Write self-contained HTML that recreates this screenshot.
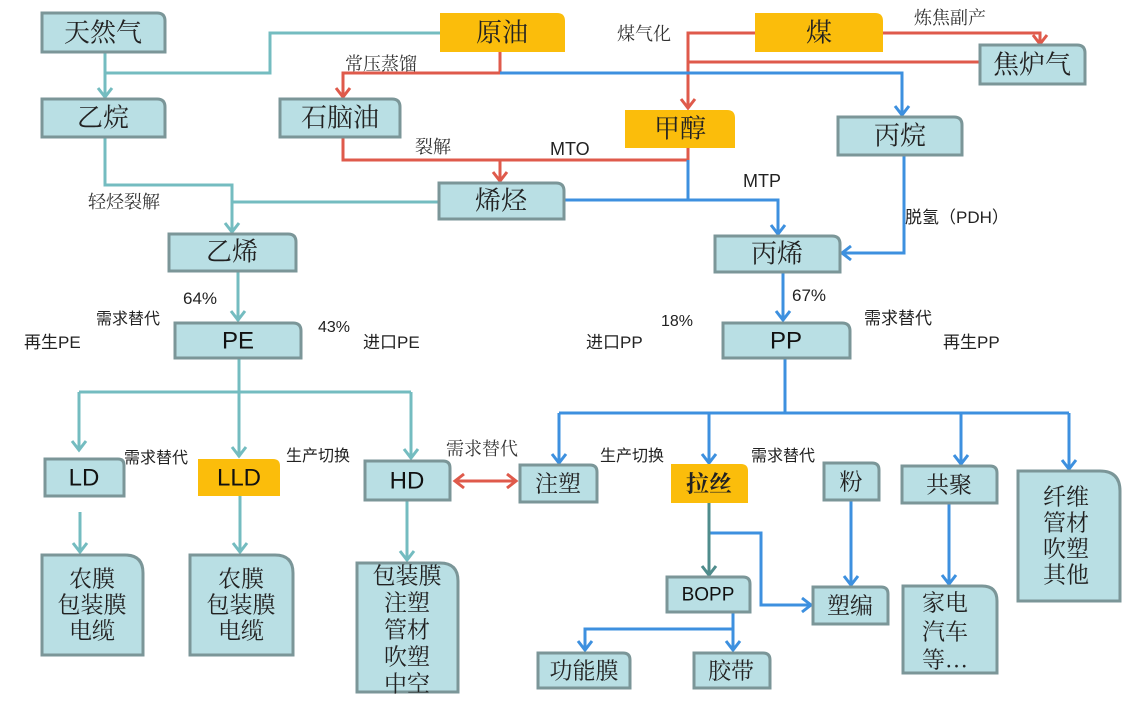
<!DOCTYPE html>
<html><head><meta charset="utf-8"><style>
html,body{margin:0;padding:0;background:#fff;}
svg{display:block;}
.n{font-family:"Liberation Serif","Noto Serif CJK SC",serif;font-size:26px;fill:#222;text-anchor:middle;dominant-baseline:central;}
.e{font-family:"Liberation Sans","Noto Sans CJK SC",sans-serif;font-size:24px;fill:#111;text-anchor:middle;dominant-baseline:central;}
.l{font-family:"Liberation Sans","Noto Sans CJK SC",sans-serif;font-size:17px;fill:#222;}
.ls{font-family:"Liberation Serif","Noto Serif CJK SC",serif;font-size:18px;fill:#333;}
.t{fill:none;stroke:#74bcc0;stroke-width:3;}
.r{fill:none;stroke:#df5a4b;stroke-width:3;}
.b{fill:none;stroke:#3d90df;stroke-width:3;}
.d{fill:none;stroke:#4f8c8c;stroke-width:3;}
</style></head><body>
<svg width="1144" height="701" viewBox="0 0 1144 701" xmlns="http://www.w3.org/2000/svg">
<rect width="1144" height="701" fill="#fff"/>
<!-- teal -->
<path class="t" d="M440,33 H270 V73 H105"/>
<path class="t" d="M105,52 V97"/>
<path class="t" d="M98,88 L105,97 L112,88"/>
<path class="t" d="M105,137 V185 H232 V232"/>
<path class="t" d="M438,202 H232"/>
<path class="t" d="M225,223 L232,232 L239,223"/>
<path class="t" d="M238,271 V321"/>
<path class="t" d="M231,311 L238,320 L245,311"/>
<path class="t" d="M239,358 V457"/>
<path class="t" d="M79,392 H411"/>
<path class="t" d="M79,392 V450 M411,392 V458"/>
<path class="t" d="M72,441 L79,450 L86,441 M232,447 L239,456 L246,447 M404,449 L411,458 L418,449"/>
<path class="t" d="M80,512 V552 M73,543 L80,552 L87,543"/>
<path class="t" d="M240,496 V552 M233,543 L240,552 L247,543"/>
<path class="t" d="M407,500 V560 M400,551 L407,560 L414,551"/>
<!-- red -->
<path class="r" d="M500,52 V73 H343 V97"/>
<path class="r" d="M336,88 L343,97 L350,88"/>
<path class="r" d="M755,33 H688 V108"/>
<path class="r" d="M681,99 L688,108 L695,99"/>
<path class="r" d="M980,62 H688"/>
<path class="r" d="M883,33 H1040 V43"/>
<path class="r" d="M1033,35 L1040,44 L1047,35"/>
<path class="r" d="M343,137 V160 H688 V148"/>
<path class="r" d="M500,160 V181"/>
<path class="r" d="M493,172 L500,181 L507,172"/>
<path class="r" d="M455,481 H516"/>
<path class="r" d="M464,474 L455,481 L464,488 M507,474 L516,481 L507,488"/>
<!-- blue -->
<path class="b" d="M500,73 H902 V115"/>
<path class="b" d="M895,106 L902,115 L909,106"/>
<path class="b" d="M688,160 V200 H565"/>
<path class="b" d="M688,200 H778 V234"/>
<path class="b" d="M771,225 L778,234 L785,225"/>
<path class="b" d="M904,155 V253 H842"/>
<path class="b" d="M851,246 L842,253 L851,260"/>
<path class="b" d="M783,272 V320"/>
<path class="b" d="M776,311 L783,320 L790,311"/>
<path class="b" d="M785,359 V413"/>
<path class="b" d="M559,413 H1069"/>
<path class="b" d="M559,413 V463 M709,413 V463 M961,413 V464 M1069,413 V469"/>
<path class="b" d="M552,454 L559,463 L566,454 M702,454 L709,463 L716,454 M954,455 L961,464 L968,455 M1062,460 L1069,469 L1076,460"/>
<path class="b" d="M709,533 H761 V605 H811"/>
<path class="b" d="M802,598 L811,605 L802,612"/>
<path class="b" d="M851,500 V585"/>
<path class="b" d="M844,576 L851,585 L858,576"/>
<path class="b" d="M949,503 V584"/>
<path class="b" d="M942,575 L949,584 L956,575"/>
<path class="b" d="M733,612 V650 M733,629 H585 V650"/>
<path class="b" d="M726,641 L733,650 L740,641 M578,641 L585,650 L592,641"/>
<path class="d" d="M709,503 V575"/>
<path class="d" d="M702,566 L709,575 L716,566"/>

<g stroke="#7b9698" stroke-width="3" fill="#b9dfe4">
<path d="M42,13 H157 Q165,13 165,21 V52 H42 Z"/>
<path d="M980,45 H1077 Q1085,45 1085,53 V84 H980 Z"/>
<path d="M42,99 H157 Q165,99 165,107 V137 H42 Z"/>
<path d="M280,99 H392 Q400,99 400,107 V137 H280 Z"/>
<path d="M838,117 H954 Q962,117 962,125 V155 H838 Z"/>
<path d="M439,183 H556 Q564,183 564,191 V219 H439 Z"/>
<path d="M169,234 H288 Q296,234 296,242 V271 H169 Z"/>
<path d="M715,236 H832 Q840,236 840,244 V272 H715 Z"/>
<path d="M175,323 H293 Q301,323 301,331 V358 H175 Z"/>
<path d="M723,323 H842 Q850,323 850,331 V358 H723 Z"/>
<path d="M45,459 H118 Q124,459 124,465 V496 H45 Z"/>
<path d="M365,461 H443 Q450,461 450,468 V500 H365 Z"/>
<path d="M520,465 H590 Q597,465 597,472 V502 H520 Z"/>
<path d="M824,463 H872 Q879,463 879,470 V500 H824 Z"/>
<path d="M902,466 H990 Q997,466 997,473 V503 H902 Z"/>
<path d="M1018,471 H1100 Q1120,471 1120,491 V601 H1018 Z"/>
<path d="M42,555 H125 Q143,555 143,573 V655 H42 Z"/>
<path d="M190,555 H275 Q293,555 293,573 V655 H190 Z"/>
<path d="M357,563 H440 Q458,563 458,581 V692 H357 Z"/>
<path d="M667,577 H743 Q750,577 750,584 V612 H667 Z"/>
<path d="M813,587 H881 Q888,587 888,594 V624 H813 Z"/>
<path d="M903,586 H982 Q997,586 997,601 V673 H903 Z"/>
<path d="M538,653 H623 Q630,653 630,660 V688 H538 Z"/>
<path d="M694,653 H763 Q770,653 770,660 V688 H694 Z"/>
</g>
<g fill="#fbbd0b">
<path d="M440,13 H557 Q565,13 565,21 V52 H440 Z"/>
<path d="M755,13 H875 Q883,13 883,21 V52 H755 Z"/>
<path d="M625,110 H727 Q735,110 735,118 V148 H625 Z"/>
<path d="M198,459 H273 Q280,459 280,466 V496 H198 Z"/>
<path d="M671,464 H741 Q748,464 748,471 V503 H671 Z"/>
</g>

<text class="n" x="103" y="33">天然气</text>
<text class="n" x="502" y="33">原油</text>
<text class="n" x="819" y="33">煤</text>
<text class="n" x="1032" y="65">焦炉气</text>
<text class="n" x="103" y="118">乙烷</text>
<text class="n" x="340" y="118">石脑油</text>
<text class="n" x="680" y="129">甲醇</text>
<text class="n" x="900" y="136">丙烷</text>
<text class="n" x="501" y="201">烯烃</text>
<text class="n" x="232" y="252">乙烯</text>
<text class="n" x="777" y="254">丙烯</text>
<text class="e" x="238" y="341">PE</text>
<text class="e" x="786" y="341">PP</text>
<text class="e" x="84" y="478">LD</text>
<text class="e" x="239" y="478">LLD</text>
<text class="e" x="407" y="481">HD</text>
<text class="n" x="558" y="484" style="font-size:23px">注塑</text>
<text class="n" x="709" y="484" style="font-size:23px;font-weight:bold">拉丝</text>
<text class="n" x="851" y="482" style="font-size:23px">粉</text>
<text class="n" x="949" y="485" style="font-size:23px">共聚</text>
<text class="e" x="708" y="595" style="font-size:19px">BOPP</text>
<text class="n" x="850" y="606" style="font-size:23px">塑编</text>
<text class="n" x="584" y="671" style="font-size:23px">功能膜</text>
<text class="n" x="731" y="671" style="font-size:23px">胶带</text>
<g class="n" style="font-size:23px">
<text x="1066" y="497">纤维</text><text x="1066" y="523">管材</text><text x="1066" y="549">吹塑</text><text x="1066" y="575">其他</text>
<text x="92" y="579">农膜</text><text x="92" y="605">包装膜</text><text x="92" y="631">电缆</text>
<text x="241" y="579">农膜</text><text x="241" y="605">包装膜</text><text x="241" y="631">电缆</text>
<text x="407" y="576">包装膜</text><text x="407" y="603">注塑</text><text x="407" y="630">管材</text><text x="407" y="657">吹塑</text><text x="407" y="684">中空</text>
<text x="945" y="603">家电</text><text x="945" y="632">汽车</text><text x="945" y="660">等…</text>
</g>

<text class="ls" x="345" y="70">常压蒸馏</text>
<text class="ls" x="415" y="153">裂解</text>
<text class="l" x="550" y="155" style="font-size:18px">MTO</text>
<text class="ls" x="617" y="40">煤气化</text>
<text class="ls" x="914" y="24">炼焦副产</text>
<text class="l" x="743" y="187" style="font-size:18px">MTP</text>
<text class="l" x="905" y="223">脱氢（PDH）</text>
<text class="ls" x="88" y="208">轻烃裂解</text>
<text class="l" x="183" y="304">64%</text>
<text class="l" x="96" y="324" style="font-size:16px">需求替代</text>
<text class="l" x="24" y="348">再生PE</text>
<text class="l" x="318" y="332" style="font-size:16px">43%</text>
<text class="l" x="363" y="348">进口PE</text>
<text class="l" x="661" y="326" style="font-size:16px">18%</text>
<text class="l" x="586" y="348">进口PP</text>
<text class="l" x="792" y="301">67%</text>
<text class="l" x="864" y="324">需求替代</text>
<text class="l" x="943" y="348">再生PP</text>
<text class="l" x="124" y="463" style="font-size:16px">需求替代</text>
<text class="l" x="286" y="461" style="font-size:16px">生产切换</text>
<text class="ls" x="446" y="455">需求替代</text>
<text class="l" x="600" y="461" style="font-size:16px">生产切换</text>
<text class="l" x="751" y="461" style="font-size:16px">需求替代</text>
</svg>
</body></html>
